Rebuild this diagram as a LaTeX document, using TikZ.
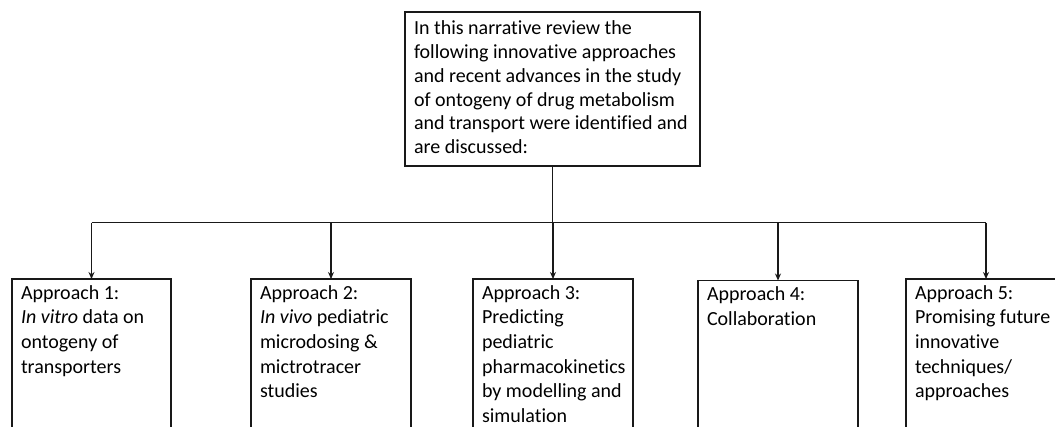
\documentclass[tikz,border=0pt]{standalone}
\usepackage{fontspec}
\setmainfont{Carlito}[Ligatures=NoCommon]
\usetikzlibrary{arrows.meta}
\newcommand{\boxtext}[4]{\fontsize{20}{#3}\selectfont\begin{minipage}[t][#2][t]{#1}\raggedright\strut #4\end{minipage}}
\tikzset{
  frame/.style={draw=black!90, line width=1.1pt, rectangle, anchor=north west, inner xsep=9pt, outer sep=0pt},
  topframe/.style={frame, inner ysep=6pt},
  apframe/.style={frame, inner ysep=3pt},
  link/.style={draw=black!90, line width=1.1pt},
  arr/.style={link, -{Stealth[length=7pt,width=6pt]}}
}
\begin{document}
\begin{tikzpicture}[x=1pt,y=-1pt]
\useasboundingbox (0,0) rectangle (1055,426);
\clip (0,0) rectangle (1055,426);
\node[topframe] (top) at (405,12) {\boxtext{277pt}{142pt}{23.8pt}{In this narrative review the\\following innovative approaches\\and recent advances in the study\\of ontogeny of drug metabolism\\and transport were identified and\\are discussed:}};
\node[apframe] (a1) at (12,279) {\boxtext{141pt}{164pt}{24.6pt}{Approach 1:\\\textit{In vitro} data on\\ontogeny of\\transporters}};
\node[apframe] (a2) at (251,279) {\boxtext{142pt}{164pt}{24.6pt}{Approach 2:\\\textit{In vivo} pediatric\\microdosing \&\\mictrotracer\\studies}};
\node[apframe] (a3) at (473,279) {\boxtext{142pt}{164pt}{24.6pt}{Approach 3:\\Predicting\\pediatric\\pharmacokinetics\\by modelling and\\simulation}};
\node[apframe] (a4) at (698,280.5) {\boxtext{142pt}{164pt}{24.6pt}{Approach 4:\\Collaboration}};
\node[apframe] (a5) at (906,279) {\boxtext{142pt}{164pt}{24.6pt}{Approach 5:\\Promising future\\innovative\\techniques/\\approaches}};
\coordinate (bus) at (top.south |- 0,222.7);
\draw[link] (top.south) -- (bus);
\draw[link] (a1.north |- bus) -- (a5.north |- bus);
\foreach \n in {a1,a2,a3,a4,a5} {
  \draw[arr] (\n.north |- bus) -- (\n.north);
}
\end{tikzpicture}
\end{document}
